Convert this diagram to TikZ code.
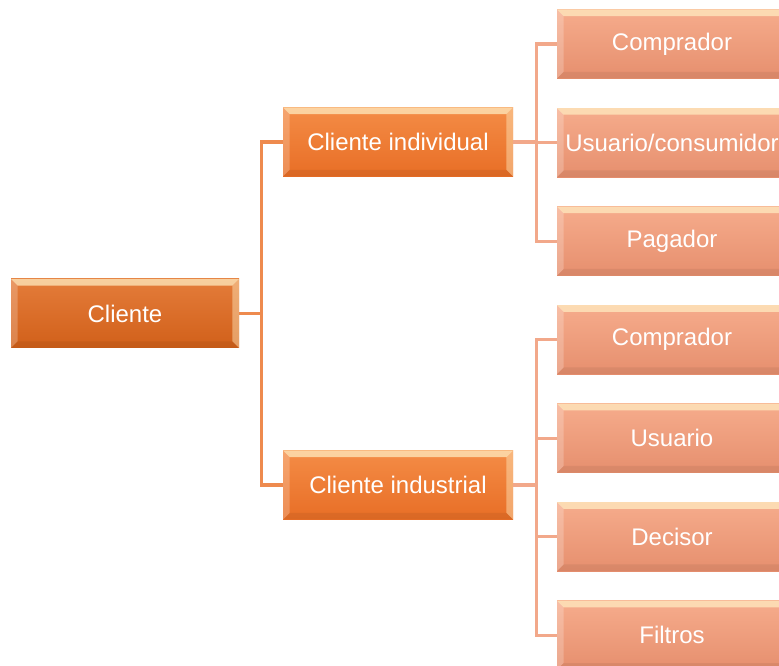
\documentclass[tikz,border=0pt]{standalone}
\usepackage{fontspec}
\setmainfont{Liberation Sans}
\usepackage{xcolor}
\usetikzlibrary{positioning}

\definecolor{raizA}{HTML}{E47C3A}
\definecolor{raizB}{HTML}{D1601A}
\definecolor{medioA}{HTML}{F48C46}
\definecolor{medioB}{HTML}{E86E26}
\definecolor{hojaA}{HTML}{F6AC8C}
\definecolor{hojaB}{HTML}{E68F6E}
\definecolor{lineaA}{HTML}{EE8A4E}
\definecolor{lineaB}{HTML}{F2A88A}
\definecolor{brillo}{HTML}{FFEBC0}

% relieve de las cajas
\newcommand\bisel{%
  \fill[brillo,opacity=.75] (path picture bounding box.north west) -- (path picture bounding box.north east)
    -- ([shift={(-5pt,-5pt)}]path picture bounding box.north east) -- ([shift={(5pt,-5pt)}]path picture bounding box.north west) -- cycle;
  \fill[white,opacity=.22] (path picture bounding box.north west) -- ([shift={(5pt,-5pt)}]path picture bounding box.north west)
    -- ([shift={(5pt,5pt)}]path picture bounding box.south west) -- (path picture bounding box.south west) -- cycle;
  \fill[brillo,opacity=.45] (path picture bounding box.north east) -- ([shift={(-5pt,-5pt)}]path picture bounding box.north east)
    -- ([shift={(-5pt,5pt)}]path picture bounding box.south east) -- (path picture bounding box.south east) -- cycle;
  \fill[black,opacity=.06] (path picture bounding box.south west) -- ([shift={(5pt,5pt)}]path picture bounding box.south west)
    -- ([shift={(-5pt,5pt)}]path picture bounding box.south east) -- (path picture bounding box.south east) -- cycle;}

\tikzset{
  caja/.style={rectangle, inner sep=0pt, text=white, minimum width=172.5pt, minimum height=51.75pt,
    font=\fontsize{18}{20}\selectfont, path picture={\bisel}},
  raiz/.style={caja, minimum width=171pt, top color=raizA, bottom color=raizB},
  medio/.style={caja, top color=medioA, bottom color=medioB},
  hoja/.style={caja, top color=hojaA, bottom color=hojaB},
  rama/.style={draw=lineaA, line width=2.3pt},
  ramita/.style={draw=lineaB, line width=2.3pt},
}

\begin{document}
\begin{tikzpicture}[x=0.75pt,y=-0.75pt]
  \clip (0,0) rectangle (779,666);
  \node[raiz] (c) at (125,313.5) {Cliente};
  \node[medio] (ci) at (398,142) {Cliente individual};
  \node[medio] (cn) at (398,485) {Cliente industrial};

  % hojas del cliente individual
  \node[hoja] (i1) at (672,44) {Comprador};
  \node[hoja, below=21.75pt of i1] (i2) {Usuario/consumidor};
  \node[hoja, below=21.75pt of i2] (i3) {Pagador};

  % hojas del cliente industrial
  \node[hoja, below=21.75pt of i3] (n1) {Comprador};
  \node[hoja, below=21.75pt of n1] (n2) {Usuario};
  \node[hoja, below=21.75pt of n2] (n3) {Decisor};
  \node[hoja, below=21.75pt of n3] (n4) {Filtros};

  \draw[rama] (c.east) -- ++(22,0) |- (ci.west);
  \draw[rama] (c.east) -- ++(22,0) |- (cn.west);
  \foreach \h in {i1,i2,i3}
    \draw[ramita] (ci.east) -- ++(23,0) |- (\h.west);
  \foreach \h in {n1,n2,n3,n4}
    \draw[ramita] (cn.east) -- ++(23,0) |- (\h.west);
\end{tikzpicture}
\end{document}
